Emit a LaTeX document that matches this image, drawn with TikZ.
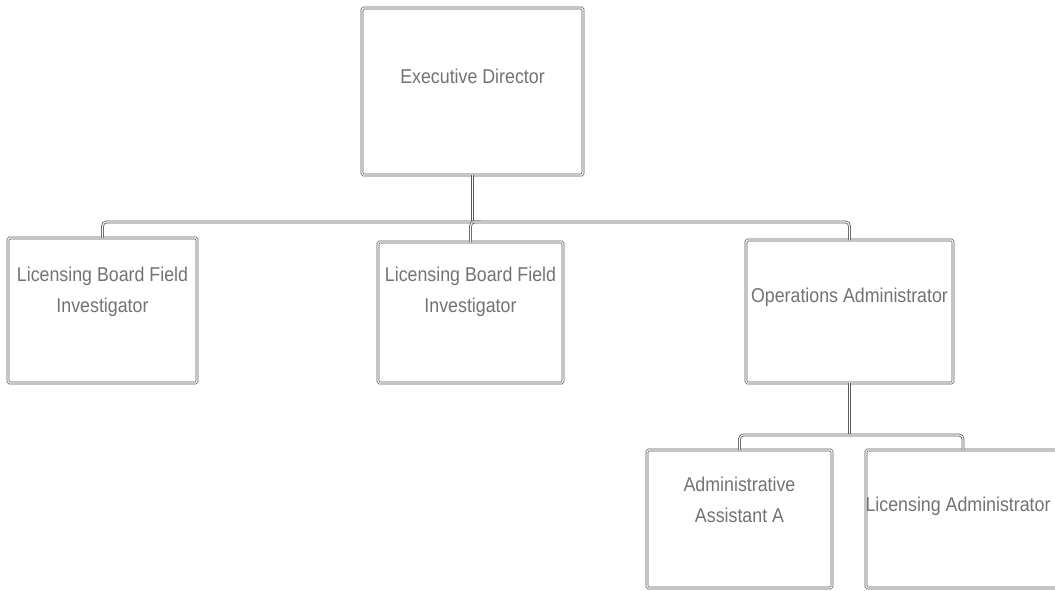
\documentclass[tikz,border=0pt]{standalone}
\usepackage{fontspec}
\setmainfont{Liberation Sans}[FakeStretch=0.89]
\begin{document}
\begin{tikzpicture}[x=1pt,y=-1pt,
  box/.style={draw=black!65, double=white, double distance=1.1pt, line width=0.8pt,
              rounded corners=1.5pt, inner sep=0pt, outer sep=0pt},
  conn/.style={draw=black!65, double=white, double distance=1.1pt, line width=0.8pt,
               rounded corners=4pt},
  lbl/.style={text=black!55, align=center, font=\fontsize{20}{31}\selectfont, inner sep=0pt}]
  \useasboundingbox (0,0) rectangle (1055,590);
  \clip (0,0) rectangle (1055,590);
  \fill[white] (0,0) rectangle (1055,590);

  % boxes
  \node[box, minimum width=221pt, minimum height=167pt] (ed)  at (472.5,91.5) {};
  \node[box, minimum width=189pt, minimum height=145pt] (l1)  at (102.5,310.5) {};
  \node[box, minimum width=185pt, minimum height=141pt] (l2)  at (470.5,312.5) {};
  \node[box, minimum width=207pt, minimum height=143pt] (ops) at (849.5,311.5) {};
  \node[box, minimum width=185pt, minimum height=138pt] (aa)  at (739.5,519) {};
  \node[box, minimum width=194pt, minimum height=138pt] (la)  at (963,519) {};

  % titles
  \node[lbl] (ed-t)  at (472.5,76)  {Executive Director};
  \node[lbl] (l1-t)  at (102.5,292) {Licensing Board Field\\Investigator};
  \node[lbl] (l2-t)  at (470.5,292) {Licensing Board Field\\Investigator};
  \node[lbl] (ops-t) at (849.5,297) {Operations Administrator};
  \node[lbl] (aa-t)  at (739.5,500) {Administrative\\Assistant A};
  \node[lbl] (la-t)  at (963,506)   {Licensing Administrator I};

  % reporting lines
  \coordinate (b1) at (472.5,222);
  \coordinate (b2) at (849.5,435);
  \draw[conn] (ed.south) -- (b1);
  \draw[conn] (b1) -| (l1.north);
  \draw[conn] (b1) -| (l2.north);
  \draw[conn] (b1) -| (ops.north);
  \draw[conn] (ops.south) -- (b2);
  \draw[conn] (b2) -| (aa.north);
  \draw[conn] (b2) -| (la.north);
\end{tikzpicture}
\end{document}
